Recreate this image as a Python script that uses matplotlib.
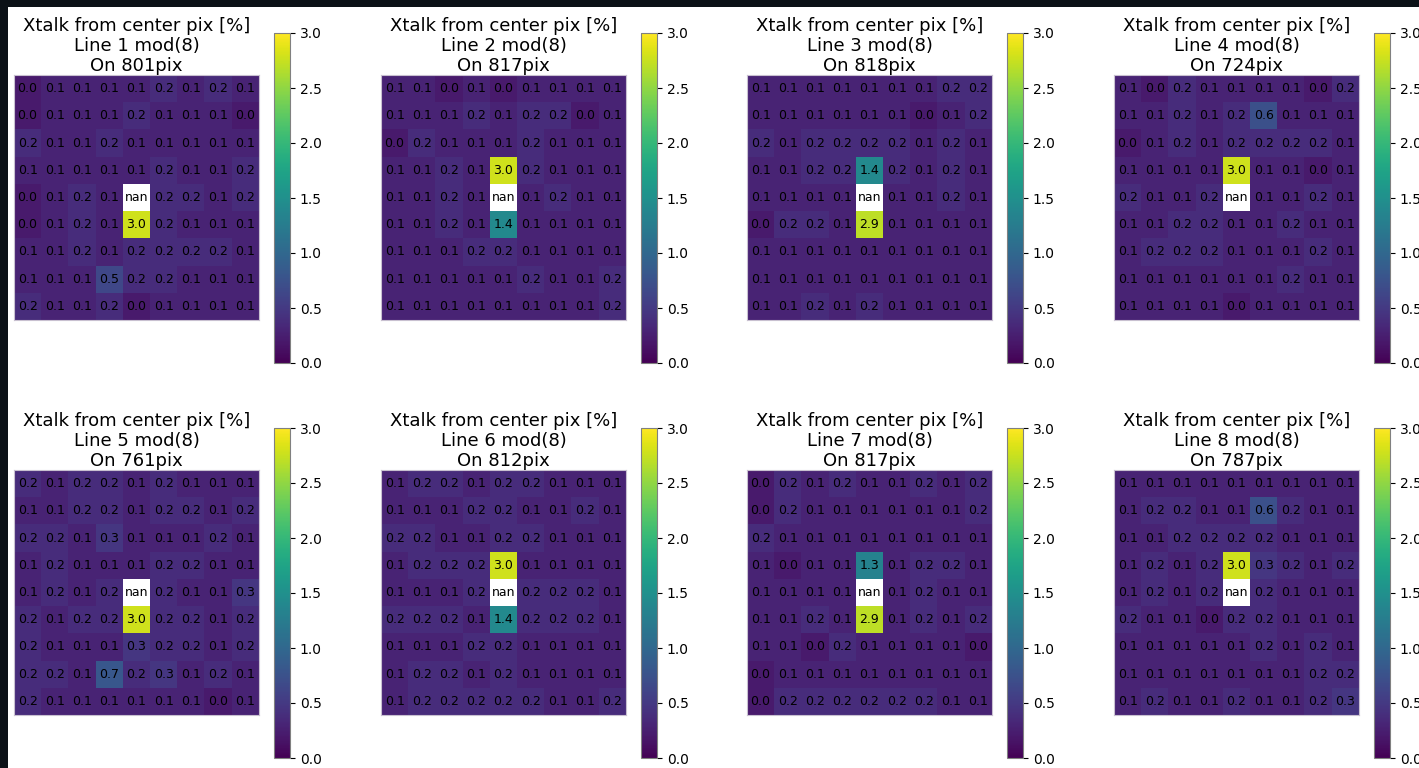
import numpy as np
import matplotlib
matplotlib.use("Agg")
import matplotlib.pyplot as plt
from matplotlib.patches import Rectangle
from matplotlib.colors import Normalize
from matplotlib.cm import ScalarMappable

nan = np.nan

line_ids = [1, 2, 3, 4, 5, 6, 7, 8]
pix_counts = [801, 817, 818, 724, 761, 812, 817, 787]

xtalk_1 = [
    [0.0, 0.1, 0.1, 0.1, 0.1, 0.2, 0.1, 0.2, 0.1],
    [0.0, 0.1, 0.1, 0.1, 0.2, 0.1, 0.1, 0.1, 0.0],
    [0.2, 0.1, 0.1, 0.2, 0.1, 0.1, 0.1, 0.1, 0.1],
    [0.1, 0.1, 0.1, 0.1, 0.1, 0.2, 0.1, 0.1, 0.2],
    [0.0, 0.1, 0.2, 0.1, nan, 0.2, 0.2, 0.1, 0.2],
    [0.0, 0.1, 0.2, 0.1, 3.0, 0.2, 0.1, 0.1, 0.1],
    [0.1, 0.1, 0.2, 0.1, 0.2, 0.2, 0.2, 0.2, 0.1],
    [0.1, 0.1, 0.1, 0.5, 0.2, 0.2, 0.1, 0.1, 0.1],
    [0.2, 0.1, 0.1, 0.2, 0.0, 0.1, 0.1, 0.1, 0.1],
]
xtalk_2 = [
    [0.1, 0.1, 0.0, 0.1, 0.0, 0.1, 0.1, 0.1, 0.1],
    [0.1, 0.1, 0.1, 0.2, 0.1, 0.2, 0.2, 0.0, 0.1],
    [0.0, 0.2, 0.1, 0.1, 0.1, 0.2, 0.1, 0.1, 0.1],
    [0.1, 0.1, 0.2, 0.1, 3.0, 0.2, 0.1, 0.1, 0.1],
    [0.1, 0.1, 0.2, 0.1, nan, 0.1, 0.2, 0.1, 0.1],
    [0.1, 0.1, 0.2, 0.1, 1.4, 0.1, 0.1, 0.1, 0.1],
    [0.1, 0.1, 0.1, 0.2, 0.2, 0.1, 0.1, 0.1, 0.1],
    [0.1, 0.1, 0.1, 0.1, 0.1, 0.2, 0.1, 0.1, 0.2],
    [0.1, 0.1, 0.1, 0.1, 0.1, 0.1, 0.1, 0.1, 0.2],
]
xtalk_3 = [
    [0.1, 0.1, 0.1, 0.1, 0.1, 0.1, 0.1, 0.2, 0.2],
    [0.1, 0.1, 0.1, 0.1, 0.1, 0.1, 0.0, 0.1, 0.2],
    [0.2, 0.1, 0.2, 0.2, 0.2, 0.2, 0.1, 0.2, 0.1],
    [0.1, 0.1, 0.2, 0.2, 1.4, 0.2, 0.1, 0.2, 0.1],
    [0.1, 0.1, 0.1, 0.1, nan, 0.1, 0.1, 0.2, 0.1],
    [0.0, 0.2, 0.2, 0.1, 2.9, 0.1, 0.1, 0.1, 0.1],
    [0.1, 0.1, 0.1, 0.1, 0.1, 0.1, 0.1, 0.1, 0.1],
    [0.1, 0.1, 0.1, 0.1, 0.1, 0.1, 0.1, 0.1, 0.1],
    [0.1, 0.1, 0.2, 0.1, 0.2, 0.1, 0.1, 0.1, 0.1],
]
xtalk_4 = [
    [0.1, 0.0, 0.2, 0.1, 0.1, 0.1, 0.1, 0.0, 0.2],
    [0.1, 0.1, 0.2, 0.1, 0.2, 0.6, 0.1, 0.1, 0.1],
    [0.0, 0.1, 0.2, 0.1, 0.2, 0.2, 0.2, 0.2, 0.1],
    [0.1, 0.1, 0.1, 0.1, 3.0, 0.1, 0.1, 0.0, 0.1],
    [0.2, 0.1, 0.1, 0.2, nan, 0.1, 0.1, 0.2, 0.1],
    [0.1, 0.1, 0.2, 0.2, 0.1, 0.1, 0.2, 0.1, 0.1],
    [0.1, 0.2, 0.2, 0.2, 0.1, 0.1, 0.1, 0.2, 0.1],
    [0.1, 0.1, 0.1, 0.1, 0.1, 0.1, 0.2, 0.1, 0.1],
    [0.1, 0.1, 0.1, 0.1, 0.0, 0.1, 0.1, 0.1, 0.1],
]
xtalk_5 = [
    [0.2, 0.1, 0.2, 0.2, 0.1, 0.2, 0.1, 0.1, 0.1],
    [0.1, 0.1, 0.2, 0.2, 0.1, 0.2, 0.2, 0.1, 0.2],
    [0.2, 0.2, 0.1, 0.3, 0.1, 0.1, 0.1, 0.2, 0.1],
    [0.1, 0.2, 0.1, 0.1, 0.1, 0.2, 0.2, 0.1, 0.1],
    [0.1, 0.2, 0.1, 0.2, nan, 0.2, 0.1, 0.1, 0.3],
    [0.2, 0.1, 0.2, 0.2, 3.0, 0.2, 0.2, 0.1, 0.2],
    [0.2, 0.1, 0.1, 0.1, 0.3, 0.2, 0.2, 0.1, 0.2],
    [0.2, 0.2, 0.1, 0.7, 0.2, 0.3, 0.1, 0.2, 0.1],
    [0.2, 0.1, 0.1, 0.1, 0.1, 0.1, 0.1, 0.0, 0.1],
]
xtalk_6 = [
    [0.1, 0.2, 0.2, 0.1, 0.2, 0.2, 0.1, 0.1, 0.1],
    [0.1, 0.1, 0.1, 0.2, 0.2, 0.1, 0.1, 0.2, 0.1],
    [0.2, 0.2, 0.1, 0.1, 0.2, 0.2, 0.1, 0.1, 0.1],
    [0.1, 0.2, 0.2, 0.2, 3.0, 0.1, 0.1, 0.1, 0.1],
    [0.1, 0.1, 0.1, 0.2, nan, 0.2, 0.2, 0.2, 0.1],
    [0.2, 0.2, 0.2, 0.1, 1.4, 0.2, 0.2, 0.2, 0.1],
    [0.1, 0.1, 0.1, 0.2, 0.2, 0.1, 0.1, 0.1, 0.1],
    [0.1, 0.2, 0.2, 0.1, 0.2, 0.1, 0.1, 0.1, 0.1],
    [0.1, 0.2, 0.2, 0.2, 0.2, 0.2, 0.1, 0.1, 0.2],
]
xtalk_7 = [
    [0.0, 0.2, 0.1, 0.2, 0.1, 0.1, 0.2, 0.1, 0.2],
    [0.0, 0.2, 0.1, 0.1, 0.1, 0.1, 0.1, 0.1, 0.2],
    [0.2, 0.1, 0.1, 0.1, 0.1, 0.1, 0.1, 0.1, 0.1],
    [0.1, 0.0, 0.1, 0.1, 1.3, 0.1, 0.2, 0.2, 0.1],
    [0.1, 0.1, 0.1, 0.1, nan, 0.1, 0.2, 0.1, 0.1],
    [0.1, 0.1, 0.2, 0.1, 2.9, 0.1, 0.2, 0.1, 0.2],
    [0.1, 0.1, 0.0, 0.2, 0.1, 0.1, 0.1, 0.1, 0.0],
    [0.0, 0.1, 0.1, 0.1, 0.1, 0.1, 0.1, 0.1, 0.1],
    [0.0, 0.2, 0.2, 0.2, 0.2, 0.2, 0.2, 0.1, 0.1],
]
xtalk_8 = [
    [0.1, 0.1, 0.1, 0.1, 0.1, 0.1, 0.1, 0.1, 0.1],
    [0.1, 0.2, 0.2, 0.1, 0.1, 0.6, 0.2, 0.1, 0.1],
    [0.1, 0.1, 0.2, 0.2, 0.2, 0.2, 0.1, 0.1, 0.1],
    [0.1, 0.2, 0.1, 0.2, 3.0, 0.3, 0.2, 0.1, 0.2],
    [0.1, 0.2, 0.1, 0.2, nan, 0.2, 0.1, 0.1, 0.1],
    [0.2, 0.1, 0.1, 0.0, 0.2, 0.2, 0.1, 0.1, 0.1],
    [0.1, 0.1, 0.1, 0.1, 0.1, 0.2, 0.1, 0.2, 0.1],
    [0.1, 0.1, 0.1, 0.1, 0.1, 0.1, 0.1, 0.2, 0.2],
    [0.1, 0.2, 0.1, 0.1, 0.2, 0.1, 0.1, 0.2, 0.3],
]
panels = [xtalk_1, xtalk_2, xtalk_3, xtalk_4, xtalk_5, xtalk_6, xtalk_7, xtalk_8]

# colour scale shown on the colorbars
cbar_min, cbar_max = 0.0, 3.0
cbar_ticks = [0.0, 0.5, 1.0, 1.5, 2.0, 2.5, 3.0]
# colour scale of the cell images (the reference's cells sit a bit lighter)
img_min, img_max = -0.25, 3.25

W, H = 1419, 768
fig = plt.figure(figsize=(W / 100, H / 100), dpi=100, facecolor="white")

# dark notebook frame (top and left strips)
fig.patches.append(Rectangle((0, 1 - 7 / H), 1, 7 / H, transform=fig.transFigure,
                             facecolor="#0b1117", edgecolor="none", zorder=-5))
fig.patches.append(Rectangle((0, 0), 8 / W, 1, transform=fig.transFigure,
                             facecolor="#0b1117", edgecolor="none", zorder=-5))

col_x = [14, 381, 747, 1114]
row_top = [75, 470]
size = 245

for k, data in enumerate(panels):
    r, c = divmod(k, 4)
    x0 = col_x[c]
    y0 = row_top[r]
    ax = fig.add_axes([x0 / W, 1 - (y0 + size) / H, size / W, size / H])
    arr = np.array(data, dtype=float)
    ax.imshow(arr, cmap="viridis", vmin=img_min, vmax=img_max, aspect="auto",
              interpolation="nearest")
    for i in range(arr.shape[0]):
        for j in range(arr.shape[1]):
            ax.text(j, i, f"{arr[i, j]:.1f}", ha="center", va="center",
                    fontsize=9, color="black")
    ax.set_xticks([])
    ax.set_yticks([])
    for s in ax.spines.values():
        s.set_color("#c8c0d0")
        s.set_linewidth(0.8)
    ax.set_title(f"Xtalk from center pix [%]\nLine {line_ids[k]} mod(8)\nOn {pix_counts[k]}pix",
                 fontsize=13, pad=3, linespacing=1.12)

    cax = fig.add_axes([(x0 + 260) / W, 1 - (y0 - 42 + 330) / H, 16 / W, 330 / H])
    sm = ScalarMappable(norm=Normalize(cbar_min, cbar_max), cmap="viridis")
    cb = fig.colorbar(sm, cax=cax, ticks=cbar_ticks)
    cb.ax.tick_params(labelsize=10)
    cb.outline.set_edgecolor("#808080")
    cb.outline.set_linewidth(0.8)

fig.savefig("out.png", dpi=100, facecolor=fig.get_facecolor())
